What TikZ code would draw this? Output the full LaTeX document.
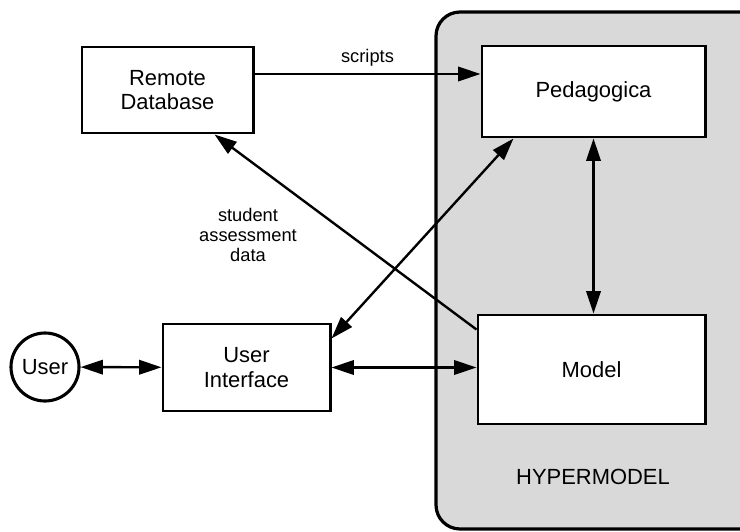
\documentclass[tikz,border=0pt]{standalone}
\usepackage{fontspec}
\setmainfont{Liberation Sans}
\usetikzlibrary{calc, arrows.meta}
\definecolor{hyperfill}{RGB}{217,217,217}
\tikzset{
  unit/.style    = {draw, line width=2.1pt, fill=white, align=center,
                    inner sep=0pt},
  hyper/.style   = {draw, line width=2.3pt, fill=hyperfill, rounded corners=0.6cm},
  userdot/.style = {circle, draw, line width=2.2pt, fill=white, inner sep=0pt,
                    minimum size=1.7cm},
  flow/.style    = {line width=1.7pt, -{Triangle[length=0.56cm, width=0.36cm]}},
  dflow/.style   = {line width=1.7pt,
                    {Triangle[length=0.56cm, width=0.36cm]}-{Triangle[length=0.56cm, width=0.36cm]}},
  flab/.style    = {font=\fontsize{13}{14.4}\selectfont, align=center},
}
\begin{document}
\begin{tikzpicture}[every node/.style={font=\fontsize{15.6}{17.2}\selectfont}]
\begin{scope}[x=0.025cm, y=-0.025cm]
\useasboundingbox (0,0) rectangle (740,531);
\clip (0,0) rectangle (740,531);
% the hypermodel runs past the right edge
\draw[hyper] (436,12) rectangle (770,529);
\node at (593,477) {HYPERMODEL};
\node[unit, minimum width=4.275cm, minimum height=2.15cm]  (rdb)   at (167.5,90)   {Remote\\Database};
\node[unit, minimum width=5.575cm, minimum height=2.275cm] (ped)   at (593.5,91.5) {Pedagogica};
\node[unit, minimum width=5.675cm, minimum height=2.725cm] (model) at (591.5,369.5) {Model};
\node[unit, minimum width=4.175cm, minimum height=2.175cm] (ui)    at (246.5,367.5) {User\\Interface};
\node[userdot] (user) at (45,367) {User};
\draw[flow] ([yshift=0.4cm]rdb.east) -- ([yshift=0.4cm]rdb.east -| ped.west)
  node[flab, midway, above=1pt] {scripts};
\draw[dflow] (ped.south) -- (ped.south |- model.north);
\draw[dflow] ([xshift=0.825cm]ped.south west) -- ([yshift=-0.4cm]ui.north east);
\draw[flow] ([yshift=-0.4cm]model.north west) -- ([xshift=-1cm]rdb.south east);
\draw[dflow] (ui.east) -- (ui.east -| model.west);
\draw[dflow] (user) -- (ui);
\node[flab] (sad) at (248,235) {student\\assessment\\data};
\end{scope}
\end{tikzpicture}
\end{document}
